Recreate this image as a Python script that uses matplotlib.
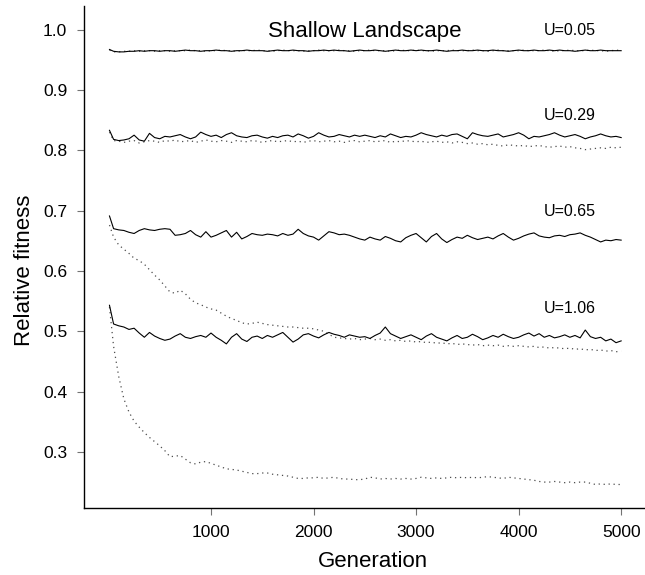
import numpy as np
import matplotlib
matplotlib.use("Agg")
import matplotlib.pyplot as plt

# =====================================================
# DATA
# =====================================================

generation = [10] + list(range(50, 5001, 50))

u005_solid = [
    0.967, 0.964, 0.963, 0.963, 0.964, 0.964, 0.965, 0.964, 0.965, 0.965,
    0.964, 0.965, 0.965, 0.964, 0.965, 0.966, 0.965, 0.965, 0.964, 0.965,
    0.965, 0.966, 0.965, 0.965, 0.964, 0.965, 0.965, 0.966, 0.965, 0.965,
    0.965, 0.964, 0.965, 0.966, 0.965, 0.965, 0.966, 0.965, 0.965, 0.964,
    0.965, 0.965, 0.966, 0.965, 0.966, 0.965, 0.965, 0.964, 0.965, 0.966,
    0.965, 0.965, 0.966, 0.965, 0.964, 0.965, 0.966, 0.965, 0.965, 0.966,
    0.965, 0.966, 0.965, 0.965, 0.966, 0.965, 0.964, 0.965, 0.965, 0.966,
    0.965, 0.965, 0.966, 0.965, 0.965, 0.966, 0.965, 0.965, 0.964, 0.965,
    0.966, 0.965, 0.965, 0.966, 0.965, 0.965, 0.966, 0.965, 0.966, 0.965,
    0.965, 0.964, 0.965, 0.966, 0.965, 0.965, 0.966, 0.965, 0.965, 0.965,
    0.965,
]

u005_dotted = [
    0.966, 0.963, 0.963, 0.964, 0.964, 0.965, 0.964, 0.965, 0.965, 0.964,
    0.965, 0.965, 0.964, 0.965, 0.965, 0.965, 0.966, 0.965, 0.965, 0.964,
    0.965, 0.965, 0.966, 0.965, 0.965, 0.964, 0.965, 0.965, 0.965, 0.966,
    0.965, 0.965, 0.964, 0.965, 0.966, 0.965, 0.965, 0.965, 0.964, 0.965,
    0.965, 0.966, 0.965, 0.965, 0.965, 0.966, 0.965, 0.965, 0.964, 0.965,
    0.965, 0.966, 0.965, 0.965, 0.965, 0.964, 0.965, 0.966, 0.965, 0.965,
    0.966, 0.965, 0.965, 0.964, 0.965, 0.965, 0.965, 0.966, 0.965, 0.965,
    0.965, 0.966, 0.965, 0.965, 0.964, 0.965, 0.966, 0.965, 0.965, 0.965,
    0.965, 0.966, 0.965, 0.965, 0.965, 0.966, 0.965, 0.964, 0.965, 0.965,
    0.966, 0.965, 0.965, 0.965, 0.966, 0.965, 0.965, 0.964, 0.965, 0.966,
    0.965,
]

u029_solid = [
    0.833, 0.818, 0.816, 0.817, 0.819, 0.825, 0.817, 0.815, 0.828, 0.821,
    0.819, 0.823, 0.822, 0.824, 0.826, 0.822, 0.819, 0.822, 0.830, 0.826,
    0.823, 0.825, 0.821, 0.826, 0.829, 0.824, 0.822, 0.821, 0.824, 0.825,
    0.822, 0.820, 0.823, 0.821, 0.824, 0.825, 0.822, 0.827, 0.824, 0.820,
    0.823, 0.829, 0.825, 0.822, 0.823, 0.826, 0.824, 0.822, 0.825, 0.823,
    0.825, 0.823, 0.821, 0.824, 0.822, 0.827, 0.824, 0.821, 0.823, 0.822,
    0.825, 0.829, 0.826, 0.824, 0.822, 0.825, 0.823, 0.826, 0.827, 0.823,
    0.819, 0.829, 0.826, 0.824, 0.823, 0.825, 0.827, 0.822, 0.824, 0.826,
    0.829, 0.825, 0.819, 0.823, 0.822, 0.824, 0.826, 0.829, 0.825, 0.822,
    0.824, 0.826, 0.823, 0.819, 0.822, 0.824, 0.827, 0.824, 0.822, 0.823,
    0.821,
]

u029_dotted = [
    0.830, 0.816, 0.815, 0.813, 0.815, 0.816, 0.812, 0.814, 0.816, 0.815,
    0.813, 0.816, 0.815, 0.817, 0.814, 0.815, 0.816, 0.813, 0.815, 0.817,
    0.815, 0.814, 0.816, 0.815, 0.813, 0.816, 0.815, 0.814, 0.816, 0.815,
    0.813, 0.815, 0.816, 0.814, 0.815, 0.816, 0.814, 0.815, 0.813, 0.815,
    0.816, 0.814, 0.815, 0.816, 0.814, 0.815, 0.813, 0.815, 0.816, 0.814,
    0.815, 0.816, 0.814, 0.815, 0.816, 0.813, 0.815, 0.814, 0.816, 0.815,
    0.814, 0.815, 0.813, 0.814, 0.815, 0.813, 0.814, 0.812, 0.814, 0.813,
    0.811, 0.812, 0.810, 0.811, 0.809, 0.810, 0.808, 0.807, 0.809, 0.808,
    0.807, 0.808, 0.806, 0.807, 0.808, 0.806, 0.805, 0.806, 0.807, 0.805,
    0.806, 0.804, 0.803, 0.801, 0.802, 0.803, 0.804, 0.803, 0.805, 0.804,
    0.805,
]

u065_solid = [
    0.691, 0.670, 0.668, 0.667, 0.664, 0.662, 0.667, 0.670, 0.668, 0.667,
    0.669, 0.670, 0.669, 0.659, 0.660, 0.662, 0.667, 0.660, 0.656, 0.665,
    0.656, 0.659, 0.663, 0.667, 0.656, 0.664, 0.653, 0.657, 0.662, 0.660,
    0.659, 0.661, 0.660, 0.658, 0.662, 0.659, 0.661, 0.669, 0.662, 0.658,
    0.656, 0.651, 0.658, 0.665, 0.663, 0.660, 0.661, 0.659, 0.656, 0.653,
    0.651, 0.656, 0.653, 0.651, 0.657, 0.654, 0.650, 0.648, 0.655, 0.659,
    0.662, 0.655, 0.648, 0.657, 0.662, 0.653, 0.647, 0.652, 0.656, 0.654,
    0.659, 0.655, 0.652, 0.654, 0.656, 0.653, 0.658, 0.662, 0.656, 0.651,
    0.654, 0.658, 0.661, 0.663, 0.658, 0.656, 0.655, 0.658, 0.659, 0.657,
    0.660, 0.661, 0.663, 0.659, 0.656, 0.652, 0.648, 0.651, 0.650, 0.652,
    0.651,
]

u065_dotted = [
    0.676, 0.656, 0.643, 0.636, 0.629, 0.621, 0.617, 0.611, 0.602, 0.593,
    0.585, 0.575, 0.565, 0.563, 0.568, 0.562, 0.553, 0.547, 0.544, 0.540,
    0.537, 0.535, 0.530, 0.525, 0.521, 0.518, 0.514, 0.512, 0.513, 0.515,
    0.513, 0.511, 0.510, 0.509, 0.508, 0.507, 0.507, 0.506, 0.505, 0.505,
    0.504, 0.502, 0.500, 0.495, 0.490, 0.489, 0.488, 0.487, 0.488, 0.486,
    0.487, 0.488, 0.486, 0.487, 0.485, 0.486, 0.484, 0.485, 0.483, 0.484,
    0.482, 0.483, 0.481, 0.482, 0.480, 0.481, 0.479, 0.480, 0.478, 0.479,
    0.478, 0.477, 0.478, 0.476, 0.477, 0.476, 0.477, 0.475, 0.476, 0.475,
    0.476, 0.475, 0.474, 0.475, 0.473, 0.474, 0.472, 0.473, 0.472, 0.471,
    0.472, 0.470, 0.471, 0.469, 0.470, 0.468, 0.469, 0.467, 0.468, 0.466,
    0.467,
]

u106_solid = [
    0.543, 0.512, 0.509, 0.507, 0.503, 0.505, 0.497, 0.490, 0.498, 0.492,
    0.488, 0.485, 0.487, 0.492, 0.496, 0.490, 0.488, 0.491, 0.493, 0.490,
    0.497, 0.490, 0.485, 0.479, 0.490, 0.496, 0.487, 0.483, 0.490, 0.492,
    0.488, 0.493, 0.490, 0.494, 0.498, 0.490, 0.482, 0.487, 0.494, 0.496,
    0.492, 0.489, 0.494, 0.498, 0.495, 0.493, 0.490, 0.494, 0.492, 0.490,
    0.491, 0.488, 0.493, 0.497, 0.507, 0.496, 0.492, 0.488, 0.491, 0.494,
    0.490, 0.486, 0.492, 0.496, 0.490, 0.487, 0.484, 0.489, 0.493, 0.488,
    0.490, 0.495, 0.491, 0.486, 0.489, 0.493, 0.490, 0.495, 0.491, 0.488,
    0.490, 0.494, 0.497, 0.492, 0.496, 0.490, 0.493, 0.489, 0.491, 0.494,
    0.490, 0.493, 0.489, 0.502, 0.491, 0.488, 0.490, 0.484, 0.487, 0.481,
    0.484,
]

u106_dotted = [
    0.540, 0.475, 0.425, 0.388, 0.366, 0.351, 0.341, 0.332, 0.324, 0.317,
    0.310, 0.302, 0.292, 0.293, 0.294, 0.288, 0.282, 0.280, 0.283, 0.284,
    0.281, 0.278, 0.275, 0.272, 0.271, 0.270, 0.268, 0.266, 0.264, 0.264,
    0.265, 0.265, 0.263, 0.262, 0.261, 0.260, 0.258, 0.256, 0.256, 0.257,
    0.257, 0.258, 0.256, 0.257, 0.258, 0.256, 0.255, 0.255, 0.254, 0.254,
    0.255, 0.258, 0.257, 0.255, 0.256, 0.255, 0.256, 0.255, 0.256, 0.255,
    0.256, 0.258, 0.257, 0.256, 0.257, 0.256, 0.257, 0.258, 0.257, 0.258,
    0.257, 0.258, 0.257, 0.258, 0.259, 0.258, 0.257, 0.256, 0.258, 0.257,
    0.256, 0.255, 0.254, 0.253, 0.251, 0.250, 0.250, 0.251, 0.250, 0.249,
    0.250, 0.249, 0.250, 0.250, 0.248, 0.246, 0.247, 0.246, 0.247, 0.246,
    0.246,
]

u_labels = ["U=0.05", "U=0.29", "U=0.65", "U=1.06"]
u_label_y = [0.999, 0.858, 0.699, 0.538]

x_ticks = [1000, 2000, 3000, 4000, 5000]
y_ticks = [0.3, 0.4, 0.5, 0.6, 0.7, 0.8, 0.9, 1.0]

# =====================================================
# FIGURE
# =====================================================

plt.rcParams["font.family"] = ["Liberation Sans", "DejaVu Sans"]

fig = plt.figure(figsize=(6.45, 5.75), dpi=100)
ax = fig.add_axes([0.130, 0.1165, 0.868, 0.873])

solid_kw = dict(color="black", linewidth=0.8)
dot_kw = dict(color="0.3", linewidth=0.9, linestyle=(0, (1, 3)))

for s, d in [
    (u005_solid, u005_dotted),
    (u029_solid, u029_dotted),
    (u065_solid, u065_dotted),
    (u106_solid, u106_dotted),
]:
    ax.plot(generation, d, **dot_kw)
    ax.plot(generation, s, **solid_kw)

# =====================================================
# TEXT
# =====================================================

ax.text(2500, 0.997, "Shallow Landscape",
        ha="center", va="center", fontsize=16)

for lab, yv in zip(u_labels, u_label_y):
    ax.text(4500, yv, lab, ha="center", va="center", fontsize=11.5)

# =====================================================
# AXES
# =====================================================

ax.set_xlim(-240, 5220)
ax.set_ylim(0.207, 1.039)

ax.set_xticks(x_ticks)
ax.set_yticks(y_ticks)
ax.set_yticklabels([f"{v:.1f}" for v in y_ticks])

ax.tick_params(direction="out", length=5, width=0.8,
               color="0.45", labelsize=12.5, pad=7)

for side in ["top", "right"]:
    ax.spines[side].set_visible(False)
for side in ["left", "bottom"]:
    ax.spines[side].set_linewidth(1.0)

ax.set_xlabel("Generation", fontsize=16)
ax.set_ylabel("Relative fitness", fontsize=16)
ax.xaxis.set_label_coords(0.517, -0.086)
ax.yaxis.set_label_coords(-0.088, 0.474)

fig.savefig("out.png", dpi=100)
plt.close(fig)
